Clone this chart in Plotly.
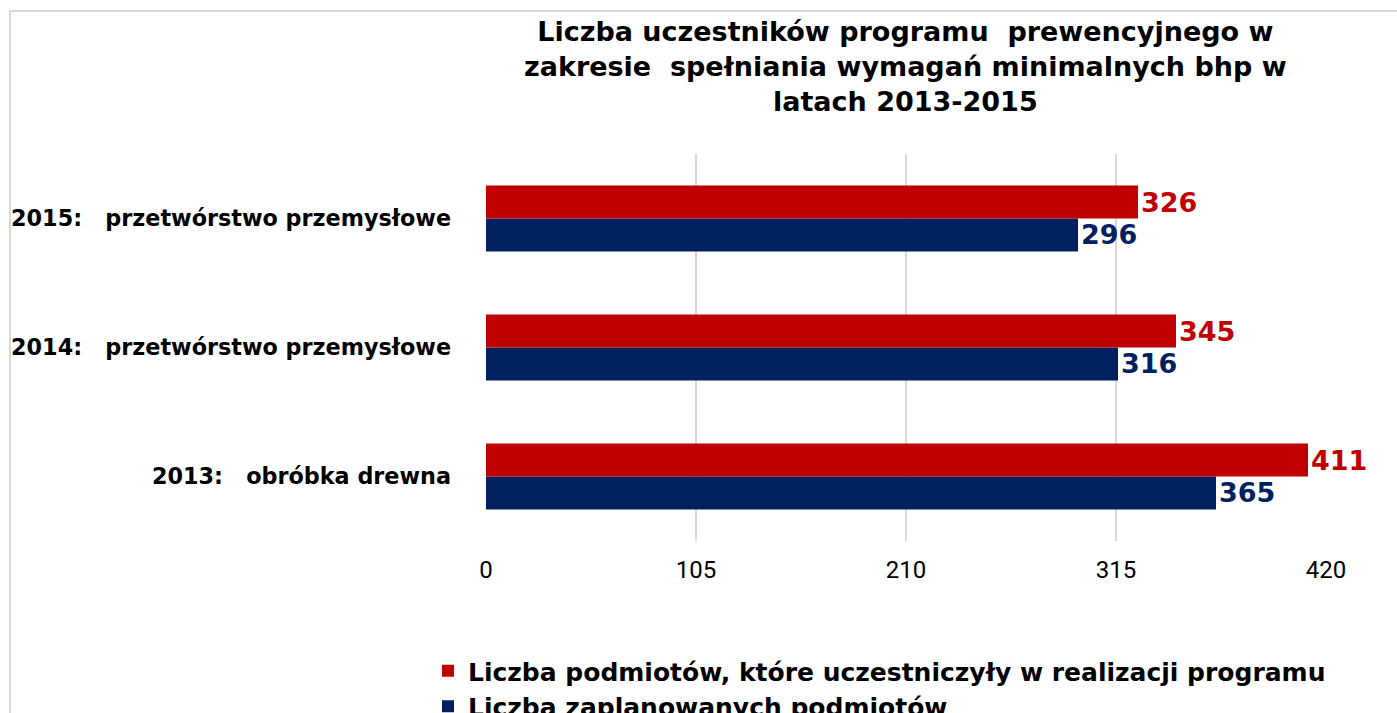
import plotly.graph_objects as go

categories = ["2013:\u00a0\u00a0 obróbka drewna",
              "2014:\u00a0\u00a0 przetwórstwo przemysłowe",
              "2015:\u00a0\u00a0 przetwórstwo przemysłowe"]
planned = [365, 316, 296]
participated = [411, 345, 326]
name_part = "Liczba podmiotów, które uczestniczyły w realizacji programu"
name_plan = "Liczba zaplanowanych podmiotów"
tickvals = [0, 105, 210, 315, 420]
title_text = ("Liczba uczestników programu\u00a0 prewencyjnego w<br>"
              "zakresie\u00a0 spełniania wymagań minimalnych bhp w<br>"
              "latach 2013-2015")

RED = "#C00000"
NAVY = "#002060"

W, H = 1397, 713
L, R, T, B = 486, 1326, 154, 541

def px_x(p):
    return (p - L) / (R - L)

def px_y(p):
    return (B - p) / (B - T)

fig = go.Figure()
fig.add_trace(go.Bar(
    y=categories, x=planned, orientation="h", name=name_plan,
    marker=dict(color=NAVY, line=dict(width=0)),
    text=[str(v) for v in planned], textposition="outside",
    textfont=dict(family="DejaVu Sans", size=27, color=NAVY, weight="bold"),
    cliponaxis=False, legendrank=2,
))
fig.add_trace(go.Bar(
    y=categories, x=participated, orientation="h", name=name_part,
    marker=dict(color=RED, line=dict(width=0)),
    text=[str(v) for v in participated], textposition="outside",
    textfont=dict(family="DejaVu Sans", size=27, color=RED, weight="bold"),
    cliponaxis=False, legendrank=1,
))

fig.update_layout(
    width=W, height=H,
    margin=dict(l=L, r=W - R, t=T, b=H - B, autoexpand=False),
    paper_bgcolor="white", plot_bgcolor="white",
    barmode="group", bargap=0.49, bargroupgap=0,
    xaxis=dict(
        range=[0, 420], tickvals=tickvals, ticktext=[str(v) for v in tickvals],
        showgrid=True, gridcolor="#d9d9d9", gridwidth=2,
        zeroline=False, showline=False, ticks="", automargin=False,
        tickfont=dict(family="Roboto", size=24, color="black"),
        ticklabelstandoff=12,
    ),
    yaxis=dict(
        showgrid=False, zeroline=False, showline=False, ticks="", automargin=False,
        tickfont=dict(family="DejaVu Sans", size=22.3, color="black", weight="bold"),
        ticklabelstandoff=34,
    ),
    showlegend=True,
    legend=dict(
        x=px_x(428), xanchor="left", y=px_y(648), yanchor="top",
        orientation="v", traceorder="normal",
        font=dict(family="DejaVu Sans", size=25, color="black", weight="bold"),
        itemsizing="constant", tracegroupgap=0,
    ),
    annotations=[dict(
        text=title_text, showarrow=False,
        xref="paper", yref="paper", x=px_x(905), y=px_y(14),
        xanchor="center", yanchor="top", align="center",
        font=dict(family="DejaVu Sans", size=27, color="black", weight="bold"),
    )],
    shapes=[dict(
        type="rect", xref="paper", yref="paper",
        x0=px_x(10), x1=px_x(1420), y0=px_y(740), y1=px_y(11),
        line=dict(color="#d9d9d9", width=2), layer="below",
    )],
)

fig.write_html("out.html", config={"displayModeBar": False},
               post_script="document.body.style.margin='0';")
